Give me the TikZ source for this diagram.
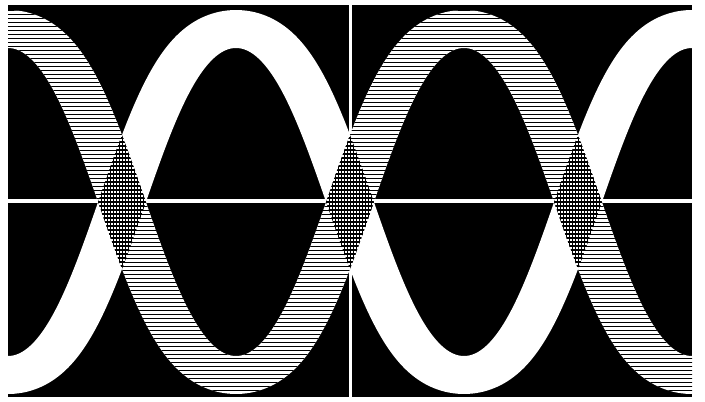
\documentclass[tikz,border=0pt]{standalone}
\newcommand\bandpath[2]{%
  plot[domain=-60:760,samples=320,smooth,variable=\t]
    ({\t-529*#2(\t)/dd(#2(\t))},{#1(\t)+361/dd(#2(\t))})
  -- plot[domain=760:-60,samples=320,smooth,variable=\t]
    ({\t+529*#2(\t)/dd(#2(\t))},{#1(\t)-361/dd(#2(\t))}) -- cycle}
\tikzset{
  axisline/.style={white,line width=4pt},
  hatchline/.style={black,line width=0.9pt},
  gridline/.style={black,line width=0.9pt},
}
\begin{document}
\begin{tikzpicture}[x=1pt,y=-1pt,
  declare function={
    wy(\u)=202+182.105*cos((\u-8)*0.789474)-9.105*cos((\u-8)*2.368421);
    ws(\u)=-2.5093*sin((\u-8)*0.789474)+0.37638*sin((\u-8)*2.368421);
    hy(\u)=202-182.105*cos((\u-8)*0.789474)+9.105*cos((\u-8)*2.368421);
    hs(\u)=2.5093*sin((\u-8)*0.789474)-0.37638*sin((\u-8)*2.368421);
    dd(\v)=sqrt(529*\v*\v+361);
  }]
  \useasboundingbox (0,0) rectangle (705,402);
  \fill[white] (0,0) rectangle (705,402);
  \fill[black] (8,5) rectangle (692,397);
  \begin{scope}
    \clip (8,5) rectangle (692,397);
    % axes
    \draw[axisline] (8,201) -- (692,201);
    \draw[white,line width=3pt] (350,5) -- (350,397);
    % white band
    \fill[white] \bandpath{wy}{ws};
    % hatched band
    \begin{scope}
      \clip \bandpath{hy}{hs};
      \fill[white] (0,0) rectangle (705,402);
      \foreach \y in {6,10,...,400} \draw[hatchline] (0,\y) -- (705,\y);
    \end{scope}
    % overlap (crossings)
    \begin{scope}
      \clip \bandpath{hy}{hs};
      \clip \bandpath{wy}{ws};
      \foreach \y in {6,10,...,400} \draw[line width=1.6pt] (0,\y) -- (705,\y);
      \foreach \x in {8,11,...,692} \draw[gridline] (\x,0) -- (\x,402);
    \end{scope}
  \end{scope}
\end{tikzpicture}
\end{document}
